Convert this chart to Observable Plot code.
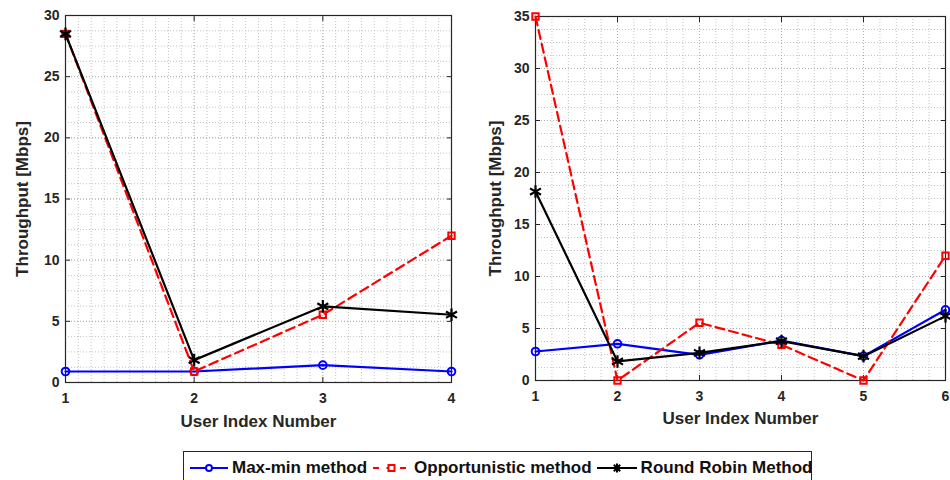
<!DOCTYPE html>
<html>
<head>
<meta charset="utf-8">
<script src="https://cdn.jsdelivr.net/npm/d3@7"></script>
<script src="https://cdn.jsdelivr.net/npm/@observablehq/plot@0.6"></script>
<style>
  html, body { margin: 0; padding: 0; background: #fff; }
  #wrap { position: relative; width: 950px; height: 480px; overflow: hidden; font-family: "Liberation Sans", Arial, Helvetica, sans-serif; }
  #wrap svg.plot { position: absolute; top: 0; }
  #legend { position: absolute; left: 183px; top: 451px; width: 629px; height: 32px; border: 1px solid #262626; box-sizing: border-box; background: #fff;
    display: flex; align-items: flex-start; padding-top: 6px; font-weight: bold; font-size: 17px; color: #111; white-space: nowrap; }
  #legend svg { display: block; flex: none; }
  #legend .item { display: flex; align-items: center; }
</style>
</head>
<body>
<div id="wrap"></div>
<script>
// ---- data: left panel (4 users) ----
const users1 = [1, 2, 3, 4];
const maxMin1 = [0.9, 0.9, 1.42, 0.9];
const opportunistic1 = [28.5, 0.9, 5.54, 12.0];
const roundRobin1 = [28.5, 1.83, 6.22, 5.54];
const yTicks1 = [0, 5, 10, 15, 20, 25, 30];

// ---- data: right panel (6 users) ----
const users2 = [1, 2, 3, 4, 5, 6];
const maxMin2 = [2.79, 3.53, 2.47, 3.85, 2.34, 6.8];
const opportunistic2 = [35, 0, 5.55, 3.43, 0, 12.0];
const roundRobin2 = [18.17, 1.83, 2.66, 3.78, 2.34, 6.19];
const yTicks2 = [0, 5, 10, 15, 20, 25, 30, 35];

const seriesNames = ["Max-min method", "Opportunistic method", "Round Robin Method"];
const xLabel = "User Index Number";
const yLabel = "Throughput [Mbps]";

const rows = (xs, ys) => xs.map((x, i) => ({x, y: ys[i]}));

function panel(cfg) {
  const {users, series, yTicks, width, marginRight, marginTop, marginBottom, xMinorStep, yMinorStep, xLabDy, yLabDx} = cfg;
  const xMax = users[users.length - 1];
  const yMax = yTicks[yTicks.length - 1];
  const minorX = d3.range(1, xMax + 1e-9, xMinorStep);
  const minorY = d3.range(0, yMax + 1e-9, yMinorStep);
  const gridStyle = {stroke: "#c4c4c4", strokeOpacity: 1, strokeDasharray: "1,2", strokeWidth: 1};
  const [mm, op, rr] = series;
  const svg = Plot.plot({
    width, height: 440,
    marginLeft: 65, marginRight, marginTop, marginBottom,
    x: {domain: [1, xMax]},
    y: {domain: [0, yMax]},
    style: {fontFamily: '"Liberation Sans", Arial, Helvetica, sans-serif', fontSize: "14px", fontWeight: "bold", color: "#262626", background: "transparent", overflow: "visible"},
    marks: [
      Plot.gridX(minorX, gridStyle),
      Plot.gridY(minorY, gridStyle),
      Plot.gridX(users, {...gridStyle, stroke: "#b0b0b0"}),
      Plot.gridY(yTicks, {...gridStyle, stroke: "#b0b0b0"}),
      Plot.frame({stroke: "#262626", strokeWidth: 1.2}),
      Plot.axisX(users, {anchor: "bottom", tickSize: -5, tickPadding: 16, tickFormat: d3.format("d"), label: null, stroke: "#262626", fill: "#262626"}),
      Plot.axisX(users, {anchor: "top", tickSize: -5, tickFormat: () => "", label: null, stroke: "#262626"}),
      Plot.axisY(yTicks, {anchor: "left", tickSize: -5, tickPadding: 11, tickFormat: d3.format("d"), label: null, stroke: "#262626", fill: "#262626"}),
      Plot.axisY(yTicks, {anchor: "right", tickSize: -5, tickFormat: () => "", label: null, stroke: "#262626"}),
      Plot.line(rows(users, mm), {x: "x", y: "y", stroke: "#0000ff", strokeWidth: 2.2}),
      Plot.dot(rows(users, mm), {x: "x", y: "y", symbol: "circle", r: 3.8, stroke: "#0000ff", strokeWidth: 2, fill: "none"}),
      Plot.line(rows(users, op), {x: "x", y: "y", stroke: "#ff0000", strokeWidth: 2.2, strokeDasharray: "9,5"}),
      Plot.dot(rows(users, op), {x: "x", y: "y", symbol: "square", r: 3.6, stroke: "#ff0000", strokeWidth: 2, fill: "none"}),
      Plot.line(rows(users, rr), {x: "x", y: "y", stroke: "#000000", strokeWidth: 2.2}),
      Plot.dot(rows(users, rr), {x: "x", y: "y", symbol: "asterisk", r: 6, stroke: "#000000", strokeWidth: 2.2}),
      Plot.text([xLabel], {text: d => d, frameAnchor: "bottom", textAnchor: "middle", lineAnchor: "middle", dy: xLabDy, fontSize: 17, fontWeight: "bold", fill: "#262626"}),
      Plot.text([yLabel], {text: d => d, frameAnchor: "left", textAnchor: "middle", lineAnchor: "middle", dx: yLabDx, rotate: -90, fontSize: 17, fontWeight: "bold", fill: "#262626"})
    ]
  });
  svg.classList.add("plot");
  return svg;
}

const wrap = document.getElementById("wrap");

const left = panel({
  users: users1, series: [maxMin1, opportunistic1, roundRobin1], yTicks: yTicks1,
  width: 470, marginRight: 19, marginTop: 15, marginBottom: 58,
  xMinorStep: 0.1, yMinorStep: 1.25, xLabDy: 39.5, yLabDx: -42.5
});
left.style.left = "0px";
wrap.appendChild(left);

const right = panel({
  users: users2, series: [maxMin2, opportunistic2, roundRobin2], yTicks: yTicks2,
  width: 480, marginRight: 5, marginTop: 16, marginBottom: 60,
  xMinorStep: 0.2, yMinorStep: 1.25, xLabDy: 38.5, yLabDx: -39.5
});
right.style.left = "470px";
wrap.appendChild(right);

// ---- legend ----
const legend = document.createElement("div");
legend.id = "legend";
const ns = "http://www.w3.org/2000/svg";
function sym(kind, w) {
  const s = document.createElementNS(ns, "svg");
  s.setAttribute("width", w); s.setAttribute("height", 20);
  const cy = 10, cx = w / 2;
  let html = "";
  if (kind === 0) {
    html = `<line x1="0" x2="${w}" y1="${cy}" y2="${cy}" stroke="#0000ff" stroke-width="2"/>` +
           `<circle cx="${cx}" cy="${cy}" r="3" fill="#fff" stroke="#0000ff" stroke-width="2"/>`;
  } else if (kind === 1) {
    html = `<line x1="0" x2="${w}" y1="${cy}" y2="${cy}" stroke="#ff0000" stroke-width="2" stroke-dasharray="6,7.5"/>` +
           `<rect x="${cx - 3}" y="${cy - 3}" width="6" height="6" fill="#fff" stroke="#ff0000" stroke-width="2"/>`;
  } else {
    html = `<line x1="0" x2="${w}" y1="${cy}" y2="${cy}" stroke="#000" stroke-width="2"/>`;
    for (let a = 0; a < 180; a += 45) {
      const r = 4.5, t = a * Math.PI / 180;
      html += `<line x1="${cx - r * Math.cos(t)}" y1="${cy - r * Math.sin(t)}" x2="${cx + r * Math.cos(t)}" y2="${cy + r * Math.sin(t)}" stroke="#000" stroke-width="2"/>`;
    }
  }
  s.innerHTML = html;
  return s;
}
const widths = [38, 37, 40];
const gapsBefore = [6, 6, 5];
seriesNames.forEach((name, i) => {
  const item = document.createElement("div");
  item.className = "item";
  item.style.marginLeft = gapsBefore[i] + "px";
  const s = sym(i, widths[i]);
  s.style.marginRight = "4px";
  item.appendChild(s);
  const t = document.createElement("span");
  t.textContent = name;
  item.appendChild(t);
  legend.appendChild(item);
});
wrap.appendChild(legend);
</script>
</body>
</html>
